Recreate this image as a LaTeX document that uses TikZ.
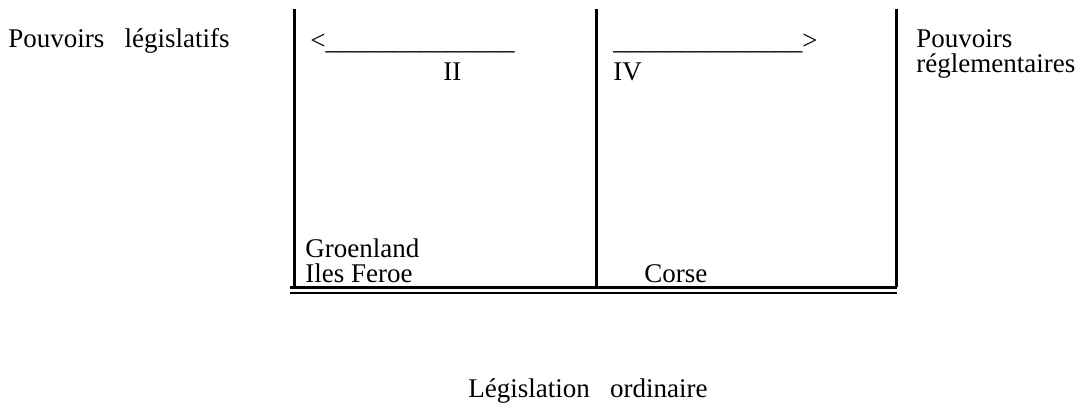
\documentclass[tikz,border=0pt]{standalone}
\usepackage{fontspec}
\setmainfont{Liberation Serif}
\usetikzlibrary{positioning}

\begin{document}
\begin{tikzpicture}[
    x=0.5pt, y=-0.5pt,
    font=\fontsize{13.5pt}{12.5pt}\selectfont,
    txt/.style={anchor=base west, inner sep=0pt, align=left},
    rule/.style={line width=1.5pt},
    thinrule/.style={line width=1pt}
]
\useasboundingbox (0,0) rectangle (1088,419);

% columns
\draw[rule] (294,9) -- (294,287);
\draw[rule] (596,9) -- (596,287);
\draw[rule] (896,9) -- (896,287);

% double line at the bottom
\draw[rule] (290,287) -- (897,287);
\draw[thinrule] (290,292.5) -- (897,292.5);

\node[txt] (legis) at (8,47) {Pouvoirs\ \ \ législatifs};
\node[txt] (regl) at (916,72) {Pouvoirs\\réglementaires};

\node[txt] (arrowII) at (310,49) {<\_\_\_\_\_\_\_\_\_\_\_\_\_\_};
\node[txt] (II) at (443,80) {II};
\node[txt] (arrowIV) at (613,49) {\_\_\_\_\_\_\_\_\_\_\_\_\_\_>};
\node[txt] (IV) at (613,80) {IV};

\node[txt] (groen) at (305,282) {Groenland\\Iles Feroe};
\node[txt] (corse) at (644,282) {Corse};

\node[txt] (ordin) at (468,397) {Législation\ \ \ ordinaire};

\end{tikzpicture}
\end{document}
